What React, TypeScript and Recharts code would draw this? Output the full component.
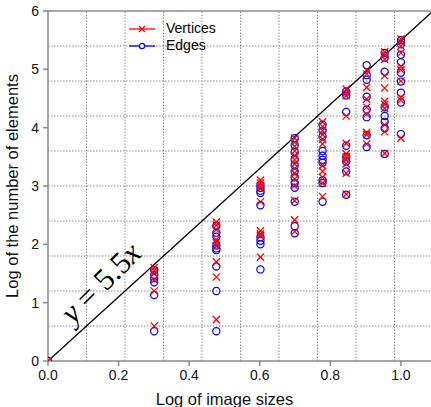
import React from 'react';
import { ScatterChart, Scatter, XAxis, YAxis, ReferenceLine } from 'recharts';

// x positions: log10 of image sizes (1..10)
const xLogSizes = [0, 0.301, 0.477, 0.602, 0.699, 0.778, 0.845, 0.903, 0.954, 1.0];

const vertexLogs: number[][] = [
  [0],
  [1.6, 1.55, 1.5, 1.39, 1.2, 0.6],
  [2.38, 2.33, 2.25, 2.08, 2.03, 1.97, 1.7, 1.44, 0.71],
  [3.1, 3.05, 3.0, 2.95, 2.73, 2.23, 2.18, 2.15, 1.78],
  [3.82, 3.75, 3.68, 3.6, 3.52, 3.45, 3.38, 3.3, 3.22, 3.12, 3.0, 2.75, 2.42, 2.22],
  [4.1, 4.02, 3.95, 3.88, 3.8, 3.72, 3.35, 3.25, 3.15, 3.05, 2.82],
  [4.66, 4.6, 4.55, 4.2, 3.73, 3.55, 3.5, 3.45, 3.38, 3.22, 2.86],
  [4.99, 4.92, 4.69, 4.49, 4.35, 4.23, 3.92, 3.88, 3.72],
  [5.3, 5.25, 5.17, 4.89, 4.68, 4.45, 4.4, 4.33, 4.05, 3.93, 3.56],
  [5.52, 5.47, 5.4, 5.28, 5.05, 4.99, 4.8, 4.52, 4.47, 3.82],
];

const edgeLogs: number[][] = [
  [0],
  [1.56, 1.48, 1.42, 1.35, 1.13, 0.51],
  [2.32, 2.2, 2.13, 1.98, 1.93, 1.9, 1.62, 1.2, 0.51],
  [3.02, 2.97, 2.92, 2.88, 2.67, 2.12, 2.06, 2.0, 1.57],
  [3.82, 3.7, 3.58, 3.45, 3.35, 3.25, 3.15, 3.05, 2.97, 2.73, 2.31, 2.19],
  [4.05, 3.95, 3.85, 3.6, 3.52, 3.45, 3.4, 3.1, 3.05, 2.73],
  [4.62, 4.55, 4.27, 3.69, 3.5, 3.42, 3.25, 2.85],
  [5.07, 4.9, 4.82, 4.53, 4.31, 4.18, 3.87, 3.67],
  [5.28, 5.2, 4.96, 4.35, 4.2, 4.1, 3.99, 3.55],
  [5.5, 5.43, 5.25, 5.12, 4.94, 4.79, 4.6, 4.43, 3.89],
];

const seriesNames = ['Vertices', 'Edges'];
const xTicks = [0, 0.2, 0.4, 0.6, 0.8, 1.0];
const yTicks = [0, 1, 2, 3, 4, 5, 6];
const slope = 5.5;
const yMax = 6;
const xMax = yMax / slope;
const gridX = [1, 2, 3, 4, 5, 6, 7, 8, 9].map((k) => (k * xMax) / 10);
const gridY = [0.6, 1.2, 1.8, 2.4, 3.0, 3.6, 4.2, 4.8, 5.4];

const toPoints = (cols: number[][]) =>
  cols.flatMap((vals, i) => vals.map((v) => ({ x: xLogSizes[i], y: v })));

const vertexData = toPoints(vertexLogs);
const edgeData = toPoints(edgeLogs);

const RED = '#ff0000';
const BLUE = '#0000ff';
const AXIS = '#8a8a8a';
const GRID = '#8c8c8c';
const FONT = 'Liberation Sans, Arial, sans-serif';

const Cross = (props: any) => {
  const { cx, cy } = props;
  if (cx == null || cy == null) return null;
  const s = 3.6;
  return (
    <path
      d={`M${cx - s},${cy - s}L${cx + s},${cy + s}M${cx - s},${cy + s}L${cx + s},${cy - s}`}
      stroke={RED}
      strokeWidth={1.3}
      fill="none"
    />
  );
};

const Ring = (props: any) => {
  const { cx, cy } = props;
  if (cx == null || cy == null) return null;
  return <circle cx={cx} cy={cy} r={3.6} stroke={BLUE} strokeWidth={1.2} fill="none" />;
};

const LegendBox = () => (
  <div
    style={{
      position: 'absolute',
      left: 128,
      top: 20,
      fontFamily: FONT,
      fontSize: 14,
      color: '#000',
      lineHeight: '17px',
    }}
  >
    {[
      { name: seriesNames[0], color: RED, kind: 'x' },
      { name: seriesNames[1], color: BLUE, kind: 'o' },
    ].map((it) => (
      <div key={it.name} style={{ display: 'flex', alignItems: 'center', height: 17 }}>
        <svg width={28} height={12} style={{ marginRight: 10 }}>
          <line x1={1} y1={6} x2={27} y2={6} stroke={it.color} strokeWidth={1.3} />
          {it.kind === 'x' ? (
            <path d="M11,3L17,9M11,9L17,3" stroke={it.color} strokeWidth={1.3} />
          ) : (
            <circle cx={14} cy={6} r={2.6} stroke={it.color} strokeWidth={1.2} fill="white" />
          )}
        </svg>
        <span>{it.name}</span>
      </div>
    ))}
  </div>
);

export default function App() {
  return (
    <div style={{ position: 'absolute', left: 0, top: 0, width: 431, height: 407, overflow: 'hidden', background: '#fff' }}>
      <ScatterChart width={433} height={407} margin={{ top: 11, right: 0, bottom: 0, left: 0 }}>
        {gridX.map((g) => (
          <ReferenceLine key={'gx' + g} x={g} stroke={GRID} strokeDasharray="1.5 1.5" strokeWidth={1} />
        ))}
        {gridY.map((g) => (
          <ReferenceLine key={'gy' + g} y={g} stroke={GRID} strokeDasharray="1.5 1.5" strokeWidth={1} />
        ))}
        <ReferenceLine y={yMax} stroke={AXIS} strokeWidth={1.5} />
        <XAxis
          type="number"
          dataKey="x"
          domain={[0, xMax]}
          ticks={xTicks}
          tickFormatter={(v: number) => v.toFixed(1)}
          allowDataOverflow
          height={46}
          stroke={AXIS}
          strokeWidth={1.5}
          tickSize={5}
          tickMargin={4}
          tick={{ fill: '#111', fontSize: 14, fontFamily: FONT }}
          label={{ value: 'Log of image sizes', position: 'insideBottom', offset: 2, fill: '#111', fontSize: 16.5, fontFamily: FONT, dx: -16 }}
        />
        <YAxis
          type="number"
          dataKey="y"
          domain={[0, yMax]}
          ticks={yTicks}
          allowDataOverflow
          width={48}
          stroke={AXIS}
          strokeWidth={1.5}
          tickSize={5}
          tickMargin={4}
          tick={{ fill: '#111', fontSize: 14, fontFamily: FONT }}
          label={{ value: 'Log of the number of elements', angle: -90, position: 'insideLeft', offset: 12, fill: '#111', fontSize: 16.5, fontFamily: FONT, style: { textAnchor: 'middle' } }}
        />
        <ReferenceLine
          segment={[{ x: 0, y: 0 }, { x: xMax, y: yMax }]}
          stroke="#000"
          strokeWidth={1.3}
          ifOverflow="visible"
        />
        <Scatter name={seriesNames[1]} data={edgeData} shape={<Ring />} isAnimationActive={false} />
        <Scatter name={seriesNames[0]} data={vertexData} shape={<Cross />} isAnimationActive={false} />
      </ScatterChart>
      <LegendBox />
      <svg width={431} height={407} style={{ position: 'absolute', left: 0, top: 0, pointerEvents: 'none' }}>
        <text
          transform="translate(108,290) rotate(-45)"
          textAnchor="middle"
          fontFamily="'Liberation Serif', 'DejaVu Serif', serif"
          fontSize={31}
          fill="#000"
        >
          <tspan fontStyle="italic">y</tspan>
          <tspan> = 5.5</tspan>
          <tspan fontStyle="italic">x</tspan>
        </text>
      </svg>
    </div>
  );
}
